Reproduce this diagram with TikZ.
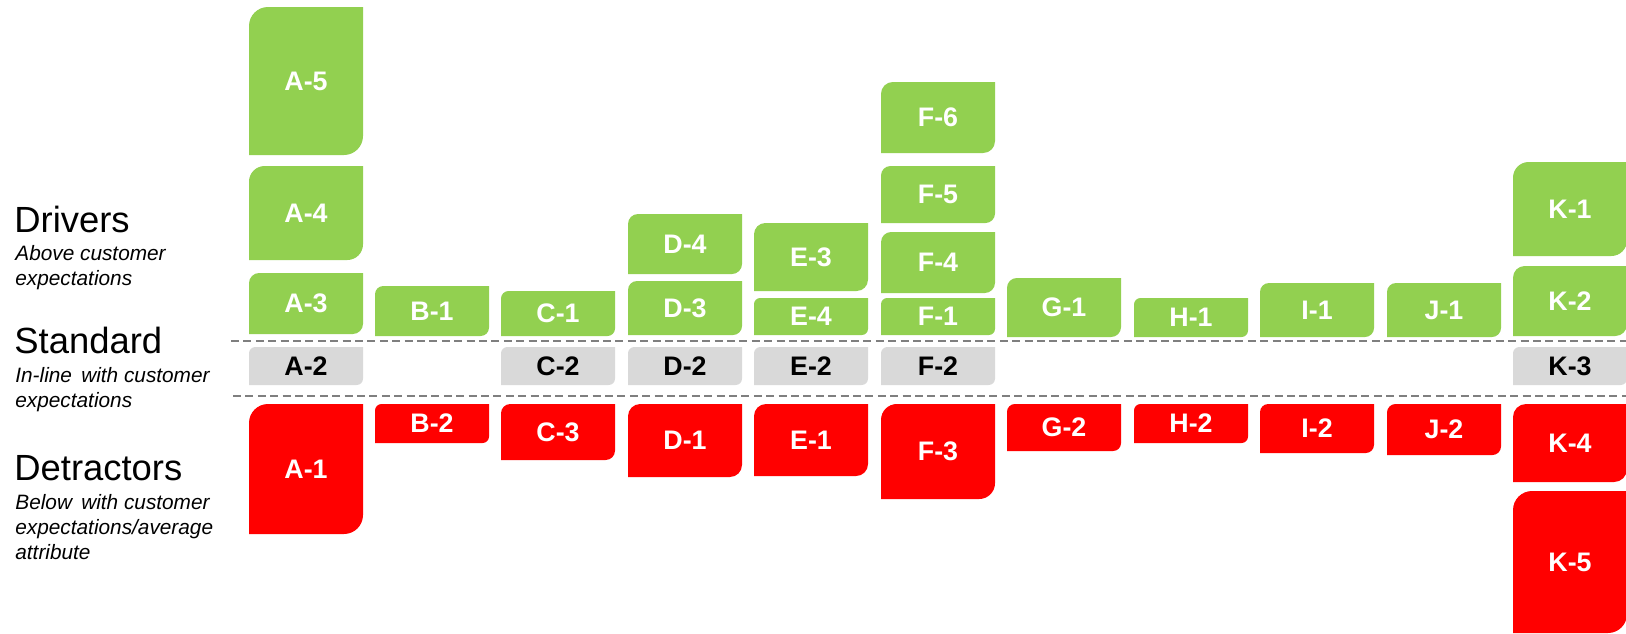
\documentclass[tikz,border=0pt]{standalone}
\usepackage{fontspec}
\setmainfont{Liberation Sans}
\definecolor{drvgreen}{HTML}{92D050}
\definecolor{detred}{HTML}{FF0000}
\definecolor{stdgray}{HTML}{D9D9D9}
\definecolor{sepgray}{HTML}{7F7F7F}

% A tile: rounded top-left and bottom-right corners, label in the middle.
% #1 style, #2 node name, #3 label, #4 left x, #5 top y, #6 bottom y (pixel units)
\newcommand{\tile}[6]{%
  \pgfmathsetmacro\tileh{#6-#5}%
  \pgfmathsetmacro\tiler{min(114,\tileh)/6}%
  \fill[#1] (#4,#6) -- (#4,#5+\tiler)
    arc[start angle=180,end angle=90,radius=\tiler*0.5pt]
    -- (#4+114,#5) -- (#4+114,#6-\tiler)
    arc[start angle=0,end angle=-90,radius=\tiler*0.5pt] -- cycle;
  \node[#1 label] (#2) at ({#4+57},{(#5+#6)/2}) {#3};%
}

\tikzset{
  drv/.style={fill=drvgreen},
  std/.style={fill=stdgray},
  det/.style={fill=detred},
  tilelabel/.style={inner sep=0pt,font=\bfseries\fontsize{13.4}{16}\selectfont},
  drv label/.style={tilelabel,text=white},
  std label/.style={tilelabel,text=black},
  det label/.style={tilelabel,text=white},
  heading/.style={anchor=base west,inner sep=0pt,font=\fontsize{18.2}{22}\selectfont},
  subheading/.style={anchor=base west,inner sep=0pt,font=\itshape\fontsize{10.4}{12.5}\selectfont},
  sepline/.style={draw=sepgray,line width=1pt,dash pattern=on 4pt off 2.2pt},
}

\begin{document}
\begin{tikzpicture}[x=0.5pt,y=-0.5pt]
\useasboundingbox (0,0) rectangle (1626,633);

% separators between the three bands
\coordinate (sepAw) at (231,341);
\coordinate (sepAe) at (1626,341);
\coordinate (sepBw) at (233,396);
\coordinate (sepBe) at (1626,396);
\draw[sepline] (sepAw) -- (sepAe);
\draw[sepline] (sepBw) -- (sepBe);

% band titles
\node[heading]    (drvT)  at (14,232) {Drivers};
\node[subheading] (drvS1) at (15,260) {Above customer};
\node[subheading] (drvS2) at (15,285) {expectations};
\node[heading]    (stdT)  at (14,353) {Standard};
\node[subheading] (stdS1) at (15,382) {In-line\, with customer};
\node[subheading] (stdS2) at (15,407) {expectations};
\node[heading]    (detT)  at (14,480) {Detractors};
\node[subheading] (detS1) at (15,509) {Below\, with customer};
\node[subheading] (detS2) at (15,534) {expectations/average};
\node[subheading] (detS3) at (15,559) {attribute};

% drivers
\tile{drv}{a5}{A-5}{249}{7}{155}
\tile{drv}{a4}{A-4}{249}{166}{260}
\tile{drv}{a3}{A-3}{249}{273}{334}
\tile{drv}{b1}{B-1}{375}{286}{336}
\tile{drv}{c1}{C-1}{501}{291}{336}
\tile{drv}{d4}{D-4}{628}{214}{274}
\tile{drv}{d3}{D-3}{628}{281}{335}
\tile{drv}{e3}{E-3}{754}{223}{291}
\tile{drv}{e4}{E-4}{754}{298}{335}
\tile{drv}{f6}{F-6}{881}{82}{153}
\tile{drv}{f5}{F-5}{881}{166}{223}
\tile{drv}{f4}{F-4}{881}{232}{293}
\tile{drv}{f1}{F-1}{881}{298}{335}
\tile{drv}{g1}{G-1}{1007}{278}{337}
\tile{drv}{h1}{H-1}{1134}{298}{337}
\tile{drv}{i1}{I-1}{1260}{283}{337}
\tile{drv}{j1}{J-1}{1387}{283}{337}
\tile{drv}{k1}{K-1}{1513}{162}{256}
\tile{drv}{k2}{K-2}{1513}{266}{336}

% standard
\tile{std}{a2}{A-2}{249}{347}{385}
\tile{std}{c2}{C-2}{501}{347}{385}
\tile{std}{d2}{D-2}{628}{347}{385}
\tile{std}{e2}{E-2}{754}{347}{385}
\tile{std}{f2}{F-2}{881}{347}{385}
\tile{std}{k3}{K-3}{1513}{347}{385}

% detractors
\tile{det}{a1}{A-1}{249}{404}{534}
\tile{det}{b2}{B-2}{375}{404}{443}
\tile{det}{c3}{C-3}{501}{404}{460}
\tile{det}{d1}{D-1}{628}{404}{477}
\tile{det}{e1}{E-1}{754}{404}{476}
\tile{det}{f3}{F-3}{881}{404}{499}
\tile{det}{g2}{G-2}{1007}{404}{451}
\tile{det}{h2}{H-2}{1134}{404}{443}
\tile{det}{i2}{I-2}{1260}{404}{453}
\tile{det}{j2}{J-2}{1387}{404}{455}
\tile{det}{k4}{K-4}{1513}{404}{482}
\tile{det}{k5}{K-5}{1513}{491}{633}
\end{tikzpicture}
\end{document}
